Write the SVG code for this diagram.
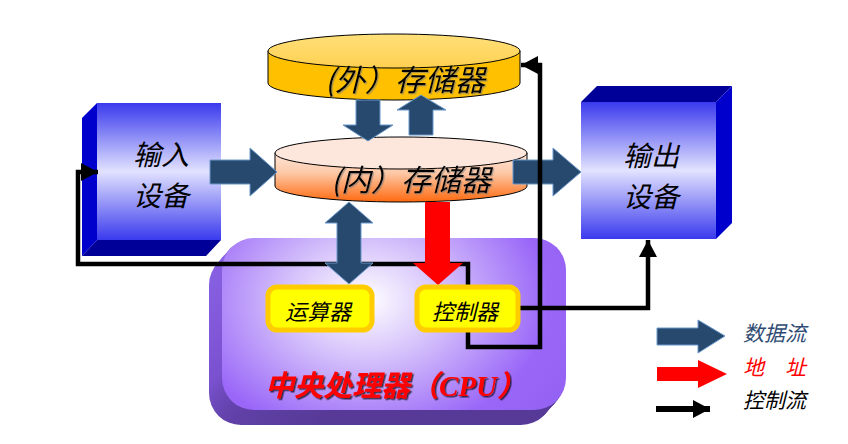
<svg xmlns="http://www.w3.org/2000/svg" width="848" height="444" viewBox="0 0 848 444">
<style>
.cjk{font-family:"Noto Sans CJK SC","Noto Sans",sans-serif;font-style:italic}
.big{font-size:30px;fill:#000}
.dev{font-size:28px;fill:#000}
.small{font-size:22px;fill:#000}
.leg{font-size:21px}
.data{fill:#27496d;stroke:#6a98cc;stroke-width:1}
.addr{fill:#ff0000}
.ctrl{fill:none;stroke:#000;stroke-width:4.5;stroke-linejoin:miter}
.cyl{stroke:#000;stroke-width:1}
.unit{fill:#ffff00;stroke:#ffcc00;stroke-width:5}
</style>
<defs>
<linearGradient id="dev" x1="0" y1="0" x2="0" y2="1">
<stop offset="0" stop-color="#3a3aee"/>
<stop offset="0.5" stop-color="#e2e2ff"/>
<stop offset="1" stop-color="#3a3aee"/>
</linearGradient>
<linearGradient id="outTop" x1="0" y1="0" x2="0" y2="1">
<stop offset="0" stop-color="#ffe07a"/>
<stop offset="1" stop-color="#ffd050"/>
</linearGradient>
<linearGradient id="inBody" x1="0" y1="0" x2="0" y2="1">
<stop offset="0" stop-color="#fee6da"/>
<stop offset="0.4" stop-color="#fdc9a8"/>
<stop offset="1" stop-color="#ff6a10"/>
</linearGradient>
<radialGradient id="cpuFace" cx="365" cy="300" r="230" gradientUnits="userSpaceOnUse" gradientTransform="translate(365 300) scale(1 0.75) translate(-365 -300)">
<stop offset="0" stop-color="#ffffff"/>
<stop offset="0.35" stop-color="#d4c0fb"/>
<stop offset="0.8" stop-color="#9966f8"/>
<stop offset="1" stop-color="#9563f4"/>
</radialGradient>
<linearGradient id="cpuSide" x1="0" y1="0" x2="0.3" y2="1">
<stop offset="0" stop-color="#8a62e6"/>
<stop offset="0.7" stop-color="#7a52d0"/>
<stop offset="1" stop-color="#573a98"/>
</linearGradient>
<marker id="ah" viewBox="0 0 17 18" refX="17" refY="9" markerWidth="17" markerHeight="18" markerUnits="userSpaceOnUse" orient="auto">
<path d="M0,0 L17,9 L0,18 Z" fill="#000"/>
</marker>
<filter id="sh" x="-10%" y="-10%" width="120%" height="130%">
<feDropShadow dx="1.5" dy="1.5" stdDeviation="0.6" flood-color="#000" flood-opacity="0.7"/>
</filter>
<filter id="sh2" x="-10%" y="-10%" width="120%" height="130%">
<feDropShadow dx="1.2" dy="1.2" stdDeviation="0.6" flood-color="#777" flood-opacity="0.6"/>
</filter>
</defs>

<!-- CPU -->
<g id="cpu">
<g fill="url(#cpuSide)">
<rect x="209" y="253" width="344" height="172" rx="32"/>
<rect x="211" y="251" width="344" height="172" rx="32"/>
<rect x="213" y="248" width="344" height="172" rx="32"/>
<rect x="215" y="246" width="344" height="172" rx="32"/>
<rect x="217" y="244" width="344" height="172" rx="32"/>
<rect x="219" y="242" width="344" height="172" rx="32"/>
<rect x="221" y="239" width="344" height="172" rx="32"/>
</g>
<rect x="222" y="238" width="344" height="172" rx="32" fill="url(#cpuFace)"/>
<text x="265" y="396" font-family="'Liberation Serif','Noto Sans CJK SC',serif" font-style="italic" font-weight="bold" font-size="29" fill="#ff0000" filter="url(#sh)">中央处理器（CPU）</text>
</g>

<!-- input device -->
<g id="input">
<polygon points="97,103 82,118 82,256 97,240" fill="#0000cc"/>
<polygon points="97,240 221,240 206,256 82,256" fill="#000099"/>
<rect x="97" y="103" width="124" height="137" fill="url(#dev)"/>
<text class="cjk dev" x="161" y="165" text-anchor="middle">输入</text>
<text class="cjk dev" x="161" y="206" text-anchor="middle">设备</text>
</g>

<!-- output device -->
<g id="output">
<polygon points="581,102 597,86 732,86 716,102" fill="#000099"/>
<polygon points="716,102 732,86 732,223 716,239" fill="#0000cc"/>
<rect x="581" y="102" width="135" height="137" fill="url(#dev)"/>
<text class="cjk dev" x="651" y="166" text-anchor="middle">输出</text>
<text class="cjk dev" x="651" y="207" text-anchor="middle">设备</text>
</g>

<!-- external storage -->
<g id="extmem">
<path class="cyl" d="M268,51 L268,83 A126,17 0 0 0 520,83 L520,51 Z" fill="#ffc000"/>
<ellipse class="cyl" cx="394" cy="51" rx="126" ry="17" fill="url(#outTop)"/>
<text class="cjk big" x="405" y="91" text-anchor="middle" filter="url(#sh2)">(外）存储器</text>
</g>

<!-- internal storage -->
<g id="intmem">
<path class="cyl" d="M275,153 L275,186 A126,16 0 0 0 527,186 L527,153 Z" fill="url(#inBody)"/>
<ellipse class="cyl" cx="401" cy="153" rx="126" ry="16" fill="#fde6dc"/>
<text class="cjk big" x="411" y="191" text-anchor="middle" filter="url(#sh2)">(内）存储器</text>
</g>

<!-- connectors -->
<g id="connectors">
<polygon class="data" points="210,160 250,160 250,148 277,172 250,196 250,184 210,184"/>
<polygon class="data" points="513,160 553,160 553,148 581,172 553,196 553,184 513,184"/>
<polyline class="ctrl" points="468,287 468,264 78,264 78,172 98,172" marker-end="url(#ah)"/>
<polyline class="ctrl" points="518,308 648,308 648,240" marker-end="url(#ah)"/>
<polyline class="ctrl" points="468,330 468,347 540,347 540,65 521,65" marker-end="url(#ah)"/>
<polygon class="data" points="356,100 380,100 380,125 393,125 368,141 343,125 356,125"/>
<polygon class="data" points="409,135 433,135 433,110 446,110 421,95 397,110 409,110"/>
<polygon class="data" points="349,202 373,223 361,223 361,263 373,263 349,284 325,263 337,263 337,223 325,223"/>
<polygon class="addr" points="425,202 450,202 450,263 463,263 438,285 413,263 425,263"/>
</g>

<!-- ALU -->
<g id="alu">
<rect class="unit" x="268" y="287" width="104" height="43" rx="9"/>
<text class="cjk small" x="318" y="320" text-anchor="middle">运算器</text>
</g>

<!-- control unit -->
<g id="cu">
<rect class="unit" x="417" y="287" width="101" height="43" rx="9"/>
<text class="cjk small" x="465" y="320" text-anchor="middle">控制器</text>
</g>

<!-- legend -->
<g id="legend">
<polygon class="data" points="657,328 698,328 698,320 725,336 698,353 698,345 657,345"/>
<text class="cjk leg" x="743" y="341" fill="#2e4a72">数据流</text>
<polygon class="addr" points="657,367 698,367 698,360 727,374 698,388 698,381 657,381"/>
<text class="cjk leg" x="743" y="375" fill="#ff0000">地　址</text>
<line x1="656" y1="409" x2="710" y2="409" stroke="#000" stroke-width="6" marker-end="url(#ah)"/>
<text class="cjk leg" x="743" y="408" fill="#000">控制流</text>
</g>
</svg>
